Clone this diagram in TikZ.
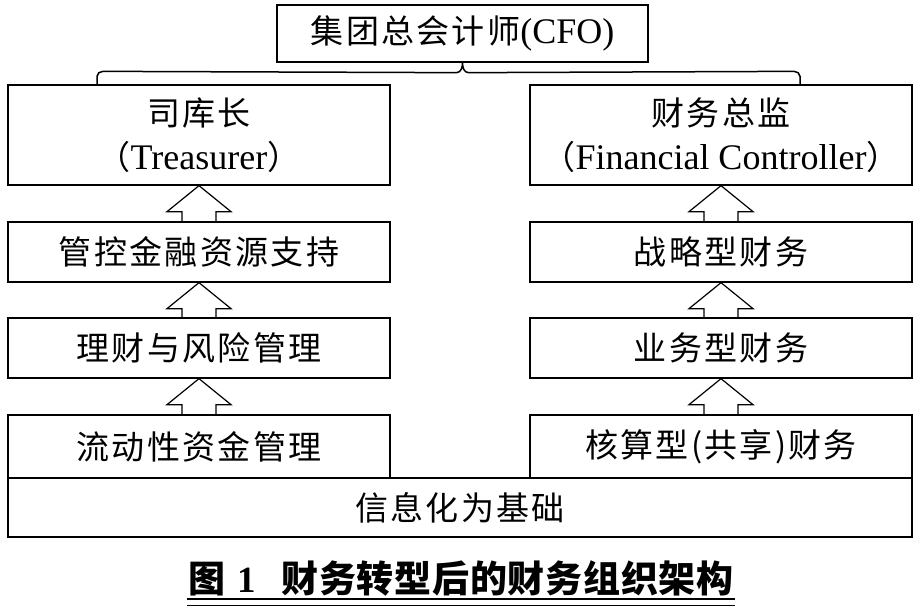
\documentclass[tikz,border=0pt]{standalone}
\usepackage{fontspec}
\setmainfont{Liberation Serif}
\newfontfamily\cjk[LetterSpace=7]{Noto Sans CJK SC}
\newfontfamily\cjkcap[LetterSpace=2]{Noto Sans CJK SC}
\newcommand{\lat}[1]{{\fontsize{36}{46}\selectfont #1}}
\usetikzlibrary{calc}
\tikzset{
  box/.style={draw, line width=1.3pt, rectangle, inner sep=0pt, align=center,
    font=\fontsize{33}{46}\selectfont},
  lbox/.style={box, minimum width=382pt},
  hollowarrow/.style={draw, line width=1.2pt, line join=miter},
  brace/.style={draw, line width=1.5pt},
}
\newcommand{\uparrowbetween}[2]{%
  \draw[hollowarrow] ($(#1.north)+(-17,0)$) -- ($(#2.south)+(-17,26)$)
    -- ($(#2.south)+(-32,26)$) -- (#2.south) -- ($(#2.south)+(32,26)$)
    -- ($(#2.south)+(17,26)$) -- ($(#1.north)+(17,0)$);}
\begin{document}
\begin{tikzpicture}[x=1pt,y=-1pt]
\useasboundingbox (0,0) rectangle (920,611);
% top
\node[box, minimum width=371pt, minimum height=57pt] (cfo) at (462.5,33.5)
  {{\cjk 集团总会计师}\lat{(CFO)}};
% left column
\node[lbox, minimum height=100pt] (l1) at (199,135)
  {{\cjk 司库长}\\[-2pt]{\cjk （}\lat{Treasurer}{\cjk ）}};
\node[lbox, minimum height=60pt] (l2) at (199,252) {\cjk 管控金融资源支持};
\node[lbox, minimum height=60pt] (l3) at (199,348) {\cjk 理财与风险管理};
\node[lbox, minimum height=63pt] (l4) at (199,446.5) {\cjk 流动性资金管理};
% right column
\node[lbox, minimum height=100pt] (r1) at (721,135)
  {{\cjk 财务总监}\\[-2pt]{\cjk （}\lat{Financial Controller}{\cjk ）}};
\node[lbox, minimum height=60pt] (r2) at (721,252) {\cjk 战略型财务};
\node[lbox, minimum height=60pt] (r3) at (721,348) {\cjk 业务型财务};
\node[lbox, minimum height=63pt] (r4) at (721,446.5) {\cjk 核算型(共享)财务};
% base
\node[box, minimum width=904pt, minimum height=59pt] (base) at (460,507.5)
  {\cjk 信息化为基础};
% arrows
\uparrowbetween{l2}{l1}
\uparrowbetween{l3}{l2}
\uparrowbetween{l4}{l3}
\uparrowbetween{r2}{r1}
\uparrowbetween{r3}{r2}
\uparrowbetween{r4}{r3}
% brace
\coordinate (bl) at ($(l1.north)+(-102,0)$);
\coordinate (br) at ($(r1.north)+(79,0)$);
\draw[brace] (bl) -- ($(bl)+(0,-8)$) to[out=90,in=180] ($(bl)+(6,-13)$)
  -- ($(cfo.south)+(-6,10)$) to[out=0,in=270] (cfo.south)
  to[out=270,in=180] ($(cfo.south)+(6,10)$)
  -- ($(br)+(-6,-13)$) to[out=0,in=90] ($(br)+(0,-8)$) -- (br);
% caption
\node[font=\fontsize{37}{42}\selectfont, inner sep=0pt] (cap) at (461,578)
  {{\cjkcap\bfseries 图}\hspace{0.3em}\textbf{1}\hspace{0.7em}{\cjkcap\bfseries 财务转型后的财务组织架构}};
\draw[line width=1.8pt] (187,599) -- (735,599);
\draw[line width=0.9pt] (187,605) -- (735,605);
\end{tikzpicture}
\end{document}
